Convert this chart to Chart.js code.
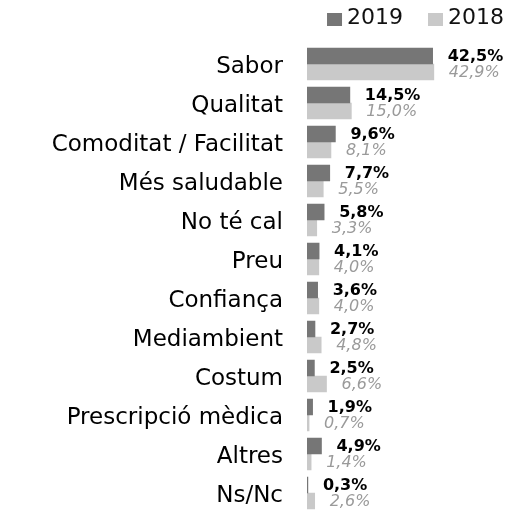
<!DOCTYPE html>
<html>
<head>
<meta charset="utf-8">
<script src="https://cdn.jsdelivr.net/npm/chart.js@4/dist/chart.umd.min.js"></script>
<style>
  html, body { margin: 0; padding: 0; background: #fff; }
  #wrap { width: 511px; height: 517px; }
</style>
</head>
<body>
<div id="wrap"><canvas id="motius"></canvas></div>
<script>
var categories = ['Sabor', 'Qualitat', 'Comoditat / Facilitat', 'Més saludable', 'No té cal', 'Preu',
    'Confiança', 'Mediambient', 'Costum', 'Prescripció mèdica', 'Altres', 'Ns/Nc'];
var values2019 = [42.5, 14.5, 9.6, 7.7, 5.8, 4.1, 3.6, 2.7, 2.5, 1.9, 4.9, 0.3];
var values2018 = [42.9, 15.0, 8.1, 5.5, 3.3, 4.0, 4.0, 4.8, 6.6, 0.7, 1.4, 2.6];
var seriesNames = ['2019', '2018'];

var fontFamily = '"DejaVu Sans", sans-serif';

function fmt(v) {
    return v.toFixed(1).replace('.', ',') + '%';
}

// Etiquetes de valor al final de cada barra
var valueLabels = {
    id: 'valueLabels',
    afterDatasetsDraw: function (chart) {
        var ctx = chart.ctx;
        ctx.save();
        chart.data.datasets.forEach(function (ds, i) {
            var meta = chart.getDatasetMeta(i);
            meta.data.forEach(function (bar, j) {
                if (i === 0) {
                    ctx.font = 'bold 16px ' + fontFamily;
                    ctx.fillStyle = '#000000';
                } else {
                    ctx.font = 'italic 16px ' + fontFamily;
                    ctx.fillStyle = '#9a9a9a';
                }
                ctx.textAlign = 'left';
                ctx.textBaseline = 'middle';
                ctx.fillText(fmt(ds.data[j]), bar.x + 15, bar.y + 1);
            });
        });
        ctx.restore();
    }
};

// Llegenda compacta a dalt a la dreta
var topLegend = {
    id: 'topLegend',
    afterDraw: function (chart) {
        var ctx = chart.ctx;
        var right = 504, boxW = 15, boxH = 13, gap = 5, spacing = 25;
        ctx.save();
        ctx.font = '22px ' + fontFamily;
        ctx.textBaseline = 'middle';
        ctx.textAlign = 'left';
        var widths = chart.data.datasets.map(function (ds) {
            return boxW + gap + ctx.measureText(ds.label).width;
        });
        var total = widths.reduce(function (a, b) { return a + b; }, 0) + spacing * (widths.length - 1);
        var x = right - total;
        chart.data.datasets.forEach(function (ds, i) {
            ctx.fillStyle = ds.backgroundColor;
            ctx.fillRect(x, 13, boxW, boxH);
            ctx.fillStyle = '#111';
            ctx.fillText(ds.label, x + boxW + gap, 18);
            x += widths[i] + spacing;
        });
        ctx.restore();
    }
};

var ctx = document.getElementById('motius');
new Chart(ctx, {
    type: 'bar',
    data: {
        labels: categories,
        datasets: [{
            label: seriesNames[0],
            data: values2019,
            backgroundColor: '#767676',
            barThickness: 16
        }, {
            label: seriesNames[1],
            data: values2018,
            backgroundColor: '#c9c9c9',
            barThickness: 16
        }]
    },
    options: {
        indexAxis: 'y',
        responsive: true,
        maintainAspectRatio: false,
        animation: false,
        layout: {
            padding: { left: 0, right: 0, top: 44.5, bottom: 4.5 }
        },
        plugins: {
            legend: { display: false },
            tooltip: { enabled: false }
        },
        scales: {
            x: {
                min: 0,
                max: 69,
                display: false
            },
            y: {
                grid: { display: false, drawTicks: false },
                border: { display: false },
                ticks: {
                    padding: 24,
                    labelOffset: 3,
                    color: '#000',
                    font: { family: fontFamily, size: 23 }
                },
                afterFit: function (scale) {
                    scale.width = 307;
                    scale.paddingTop = 0;
                    scale.paddingBottom = 0;
                }
            }
        }
    },
    plugins: [valueLabels, topLegend]
});
</script>
</body>
</html>
